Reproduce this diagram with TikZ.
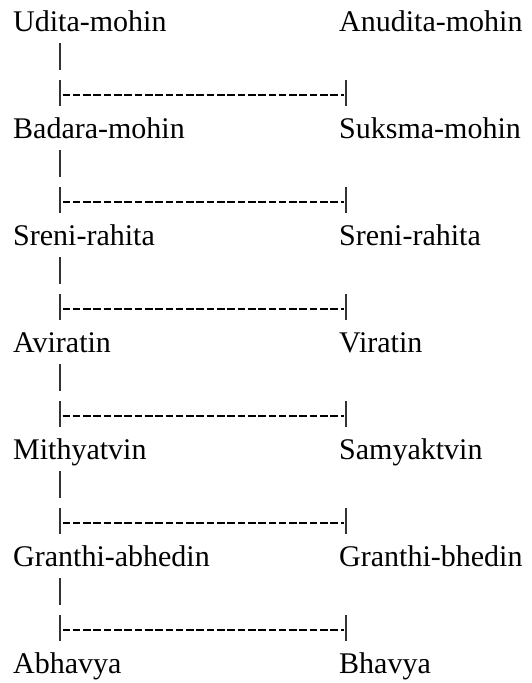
\documentclass[tikz,border=0pt]{standalone}
\usepackage{fontspec}
\setmainfont{Liberation Serif}
\usepackage{tikz}
\tikzstyle{term}=[anchor=base west,inner sep=0pt,font=\fontsize{30}{36}\selectfont]
\tikzstyle{bar}=[draw,line width=1.1pt,black!80]
\tikzstyle{hyph}=[draw,line width=1.3pt,dash pattern=on 7.6pt off 2.7pt]

\begin{document}
\begin{tikzpicture}[x=1pt,y=1pt]
    \useasboundingbox (0,0) rectangle (532,-683);
    \foreach \name/\ypos/\lft/\rgt in {1/31/Udita-mohin/Anudita-mohin,
        2/138/Badara-mohin/Suksma-mohin, 3/245/Sreni-rahita/Sreni-rahita,
        4/352/Aviratin/Viratin, 5/459/Mithyatvin/Samyaktvin,
        6/566/Granthi-abhedin/Granthi-bhedin, 7/673/Abhavya/Bhavya}
    {
        \node[term] (L\name) at (13,-\ypos) {\lft};
        \node[term] (R\name) at (339,-\ypos) {\rgt};
    }
    \foreach \i/\j in {1/2,2/3,3/4,4/5,5/6,6/7}
    {
        \path[bar] ([shift={(47,-12)}]L\i.base west) -- +(0,-27);
        \path[bar] ([shift={(47,58)}]L\j.base west) -- +(0,-26);
        \path[bar] ([shift={(7,58)}]R\j.base west) -- +(0,-26);
        \path[hyph] ([shift={(49.5,43)}]L\j.base west) -- ([shift={(5,43)}]R\j.base west);
    }
\end{tikzpicture}
\end{document}
